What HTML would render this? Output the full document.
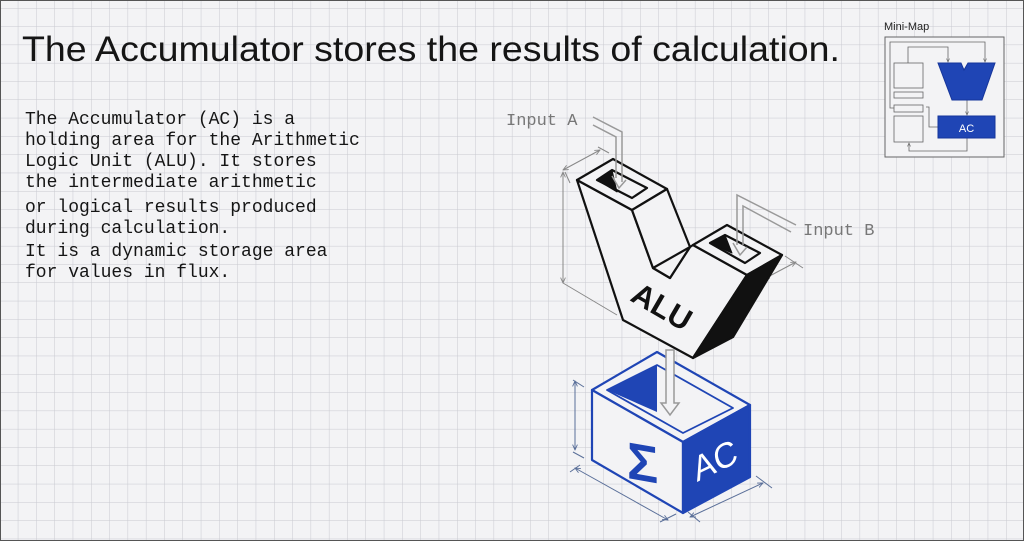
<!DOCTYPE html>
<html><head><meta charset="utf-8"><style>
html,body{margin:0;padding:0;background:#f3f3f5;}
svg{display:block}
</style></head><body>
<svg width="1024" height="541" viewBox="0 0 1024 541" xmlns="http://www.w3.org/2000/svg">
<defs>
<pattern id="g" x="0" y="8.5" width="18.3" height="18.3" patternUnits="userSpaceOnUse">
<path d="M18.3 0V18.3M0 18.3H18.3" stroke="#c8c9d0" stroke-width="1" fill="none"/>
</pattern>
<marker id="ag" viewBox="0 0 10 10" refX="9" refY="5" markerWidth="6" markerHeight="6" orient="auto-start-reverse"><path d="M0 1L9 5L0 9" fill="none" stroke="#888" stroke-width="1.5"/></marker>
<marker id="ab" viewBox="0 0 10 10" refX="9" refY="5" markerWidth="6" markerHeight="6" orient="auto-start-reverse"><path d="M0 1L9 5L0 9" fill="none" stroke="#5a6f99" stroke-width="1.5"/></marker>
<marker id="am" viewBox="0 0 10 10" refX="9" refY="5" markerWidth="5" markerHeight="5" orient="auto"><path d="M0 1L9 5L0 9" fill="none" stroke="#666" stroke-width="1.5"/></marker>
</defs>
<rect width="1024" height="541" fill="#f3f3f5"/>
<rect width="1024" height="541" fill="url(#g)"/>
<rect x="0.5" y="0.5" width="1023" height="540" fill="none" stroke="#555" stroke-width="1"/>

<text x="22" y="61" textLength="818" lengthAdjust="spacingAndGlyphs" font-family="Liberation Sans, sans-serif" font-size="35" fill="#151515">The Accumulator stores the results of calculation.</text>
<g font-family="Liberation Mono, monospace" font-size="18" fill="#151515">
<text x="25" y="124">The Accumulator (AC) is a</text>
<text x="25" y="145">holding area for the Arithmetic</text>
<text x="25" y="166">Logic Unit (ALU). It stores</text>
<text x="25" y="187">the intermediate arithmetic</text>
<text x="25" y="212">or logical results produced</text>
<text x="25" y="233">during calculation.</text>
<text x="25" y="256">It is a dynamic storage area</text>
<text x="25" y="277">for values in flux.</text>
</g>

<g font-family="Liberation Mono, monospace" font-size="17" fill="#777">
<text x="506" y="125">Input A</text>
<text x="803" y="235">Input B</text>
</g>

<g stroke="#888" stroke-width="1" fill="none">
<line x1="565" y1="172" x2="570" y2="183"/>
<line x1="563" y1="283" x2="617" y2="315"/>
<line x1="563" y1="172" x2="563" y2="283" marker-start="url(#ag)" marker-end="url(#ag)"/>
<line x1="563" y1="170" x2="600" y2="150" marker-start="url(#ag)" marker-end="url(#ag)"/>
<line x1="598" y1="147" x2="609" y2="153"/>
<line x1="764" y1="279" x2="796" y2="262" marker-start="url(#ag)" marker-end="url(#ag)"/>
<line x1="785" y1="256" x2="803" y2="268"/>
</g>

<g stroke="#111" stroke-width="2.2" stroke-linejoin="round" fill="#f3f3f5">
<polygon points="577,180 623,320 693,358 747,275 693,245 690,247 670,278 653,268 632,210"/>
<polygon points="577,180 613,159 667,189 632,210" />
<polygon points="632,210 667,189 690,247 670,278 653,268"/>
<polygon points="693,245 727,225 782,255 747,275"/>
<polygon points="747,275 782,255 733,337 693,358" fill="#111"/>
<polygon points="597,180 612,170 647,188 632,198" fill="#f3f3f5"/>
<polygon points="597,180 612,170 617,192" fill="#111" stroke-width="1"/>
<polygon points="710,243 725,235 760,253 745,263" fill="#f3f3f5"/>
<polygon points="710,243 725,235 732,253" fill="#111" stroke-width="1"/>
<line x1="653" y1="268" x2="690" y2="247"/>
</g>
<text x="0" y="0" transform="translate(629,300) rotate(30)" font-family="Liberation Sans, sans-serif" font-weight="bold" font-size="31" fill="#111">ALU</text>

<g fill="none" stroke="#999" stroke-width="1.5">
<polyline points="593,117 622,132 622,182"/>
<polyline points="593,125 616,137 616,178"/>
<path d="M612 176 L619 188 L626 180"/>
<polyline points="796,225 737,195 737,245"/>
<polyline points="791,232 743,206 743,245"/>
<path d="M733 243 L740 255 L747 247"/>
</g>

<g stroke="#5a6f99" stroke-width="1" fill="none">
<line x1="573" y1="380" x2="584" y2="387"/>
<line x1="573" y1="452" x2="584" y2="458"/>
<line x1="575" y1="381" x2="575" y2="450" marker-start="url(#ab)" marker-end="url(#ab)"/>
<line x1="575" y1="468" x2="668" y2="520" marker-start="url(#ab)" marker-end="url(#ab)"/>
<line x1="570" y1="472" x2="580" y2="465"/>
<line x1="660" y1="522" x2="676" y2="514"/>
<line x1="690" y1="517" x2="763" y2="483" marker-start="url(#ab)" marker-end="url(#ab)"/>
<line x1="688" y1="512" x2="700" y2="522"/>
<line x1="756" y1="476" x2="772" y2="488"/>
</g>

<g stroke="#1f45b5" stroke-width="2.2" stroke-linejoin="round">
<polygon points="592,390 657,352 750,405 683,442" fill="#f3f3f5"/>
<polygon points="607,390 657,365 733,408 683,433" fill="#f3f3f5" stroke-width="1.8"/>
<polygon points="607,390 657,365 657,412" fill="#1f45b5" stroke="none"/>
<polygon points="592,390 683,442 683,513 592,460" fill="#f3f3f5"/>
<polygon points="683,442 750,405 750,477 683,513" fill="#1f45b5"/>
</g>
<text x="0" y="0" transform="translate(627,478) skewY(10)" font-family="Liberation Sans, sans-serif" font-weight="bold" font-size="52" fill="#1f45b5">Σ</text>
<text x="0" y="0" transform="translate(697,482) rotate(-26) skewX(-10)" font-family="Liberation Sans, sans-serif" font-size="34" fill="#fff">AC</text>

<g fill="#f3f3f5" stroke="#999" stroke-width="1.5">
<path d="M666 350 V403 H661 L670 415 L679 403 H674 V350 Z"/>
</g>

<text x="884" y="30" font-family="Liberation Sans, sans-serif" font-size="11" fill="#222">Mini-Map</text>
<rect x="885" y="37" width="119" height="120" fill="#f3f3f5" stroke="#666" stroke-width="1"/>
<g fill="none" stroke="#666" stroke-width="0.8">
<rect x="894" y="63" width="29" height="25"/>
<rect x="894" y="92" width="29" height="6"/>
<rect x="894" y="105" width="29" height="7"/>
<rect x="894" y="116" width="29" height="26"/>
<polyline points="908,63 908,47 948,47 948,62" marker-end="url(#am)"/>
<polyline points="894,108 890,108 890,42 985,42 985,62" marker-end="url(#am)"/>
<polyline points="967,100 967,115" marker-end="url(#am)"/>
<polyline points="938,127 929,127 929,107 926,107"/>
<polyline points="967,138 967,151 909,151 909,143" marker-end="url(#am)"/>
</g>
<polygon points="938,63 961,63 964,70 968,63 995,63 982,100 952,100" fill="#1f45b5" stroke="#16359a" stroke-width="1"/>
<rect x="938" y="116" width="57" height="22" fill="#1f45b5" stroke="#16359a" stroke-width="1"/>
<text x="966.5" y="132" text-anchor="middle" font-family="Liberation Sans, sans-serif" font-size="11" fill="#fff">AC</text>
</svg>
</body></html>
